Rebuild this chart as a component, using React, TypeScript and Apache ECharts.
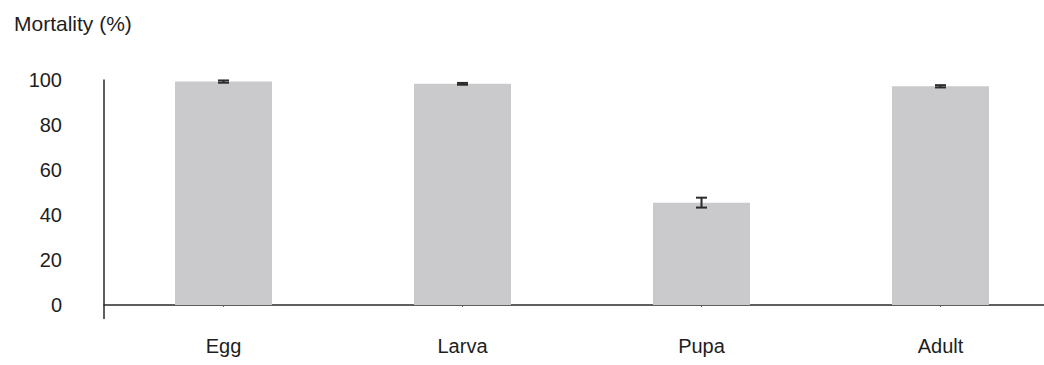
import React, { useEffect, useRef } from "react";
import * as echarts from "echarts";

// Mortality by developmental stage, with standard error
const stages = ["Egg", "Larva", "Pupa", "Adult"];
const mortality = [99.3, 98.3, 45.5, 97.2];
const stdError = [0.5, 0.4, 2.2, 0.5];
const yTickValues = [0, 20, 40, 60, 80, 100];

const FONT = "'Liberation Sans', Arial, sans-serif";
const TEXT = "#1e1e1e";
const INK = "#2a2a2a";

export default function App() {
  const ref = useRef<HTMLDivElement>(null);

  useEffect(() => {
    if (!ref.current) return;
    const chart = echarts.init(ref.current, undefined, { renderer: "svg" });

    const errorData = stages.map((_, i) => [
      i,
      mortality[i] - stdError[i],
      mortality[i] + stdError[i],
    ]);

    chart.setOption({
      animation: false,
      backgroundColor: "#ffffff",
      textStyle: { fontFamily: FONT },
      title: {
        text: "Mortality (%)",
        left: 9,
        top: 8,
        textStyle: { fontFamily: FONT, fontSize: 21, fontWeight: "normal", color: TEXT },
      },
      grid: {
        left: 104,
        top: 80,
        width: 956,
        height: 238.5,
        outerBoundsMode: "none",
      },
      xAxis: {
        type: "category",
        data: stages,
        axisLine: { onZero: true, lineStyle: { color: INK, width: 1.5 } },
        axisTick: { show: true, alignWithLabel: true, length: 2, lineStyle: { color: "#666" } },
        axisLabel: { margin: 17, fontSize: 20, color: TEXT, fontFamily: FONT },
        splitLine: { show: false },
      },
      yAxis: {
        type: "value",
        min: -6,
        max: 100,
        axisLine: { show: true, lineStyle: { color: INK, width: 1.5 } },
        axisTick: { show: false },
        splitLine: { show: false },
        axisLabel: {
          customValues: yTickValues,
          margin: 42,
          fontSize: 20,
          color: TEXT,
          fontFamily: FONT,
        },
      },
      series: [
        {
          type: "bar",
          data: mortality,
          barWidth: 97,
          itemStyle: { color: "#cacacd" },
        },
        {
          type: "custom",
          data: errorData,
          z: 10,
          renderItem: (params: any, api: any) => {
            const hi = api.coord([api.value(0), api.value(2)]);
            const lo = api.coord([api.value(0), api.value(1)]);
            const half = 5.5;
            const style = { stroke: "#2b2b2b", lineWidth: 2 };
            return {
              type: "group",
              children: [
                { type: "line", shape: { x1: hi[0], y1: hi[1], x2: lo[0], y2: lo[1] }, style },
                { type: "line", shape: { x1: hi[0] - half, y1: hi[1], x2: hi[0] + half, y2: hi[1] }, style },
                { type: "line", shape: { x1: lo[0] - half, y1: lo[1], x2: lo[0] + half, y2: lo[1] }, style },
              ],
            };
          },
        },
      ],
    });

    return () => chart.dispose();
  }, []);

  return (
    <div
      ref={ref}
      style={{ position: "fixed", left: 0, top: 0, width: 1044, height: 365, background: "#fff" }}
    />
  );
}
